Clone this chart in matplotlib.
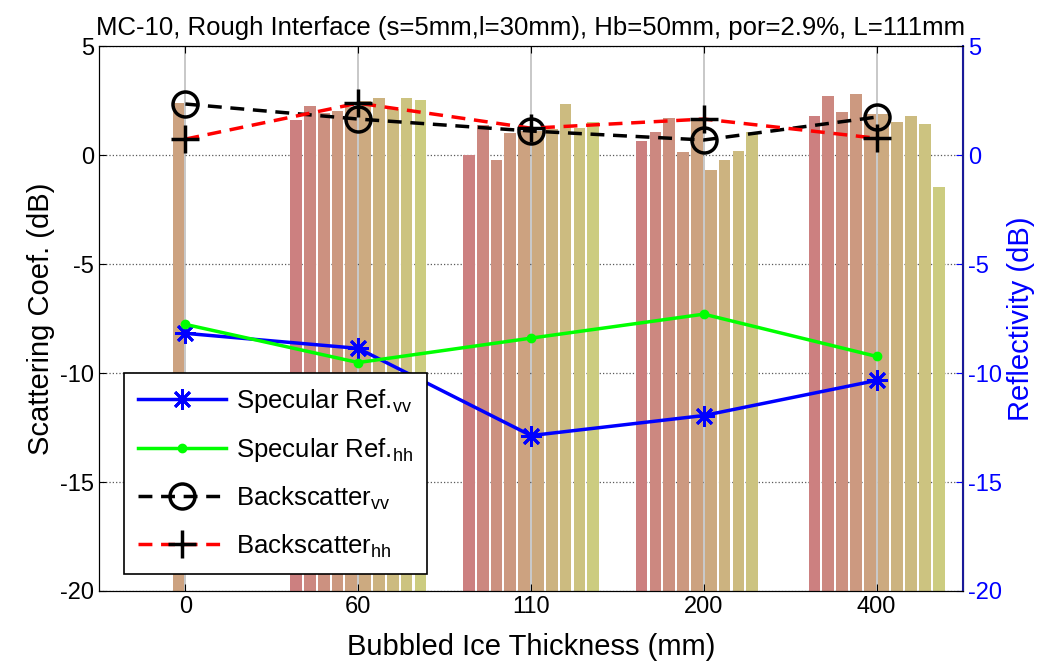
import numpy as np
import matplotlib.pyplot as plt

plt.rcParams['font.family'] = ['Liberation Sans', 'DejaVu Sans']
plt.rcParams['mathtext.fontset'] = 'custom'
plt.rcParams['mathtext.rm'] = 'Liberation Sans'
plt.rcParams['axes.unicode_minus'] = False

# 데이터
thickness = ['0', '60', '110', '200', '400']
nan = np.nan
bars = [
    [nan, nan, nan, nan, 2.38, nan, nan, nan, nan, nan],
    [1.62, 2.26, 1.93, 2.0, 2.2, 2.5, 2.63, 2.11, 2.63, 2.53],
    [0.0, 1.39, -0.22, 1.0, 1.08, 1.1, 1.19, 2.35, 1.24, 1.51],
    [0.63, 1.07, 1.71, 0.12, 1.54, -0.71, -0.22, 0.2, 1.07, nan],
    [1.8, 2.72, 1.99, 2.81, 1.9, 1.89, 1.53, 1.8, 1.44, -1.47],
]
spec_vv = [-8.18, -8.87, -12.87, -11.95, -10.34]
spec_hh = [-7.77, -9.52, -8.4, -7.3, -9.24]
back_vv = [2.34, 1.65, 1.1, 0.69, 1.74]
back_hh = [0.73, 2.38, 1.23, 1.65, 0.77]

fig = plt.figure(figsize=(10.51, 6.69), dpi=100, facecolor='white')
ax = fig.add_axes([0.0942, 0.1166, 0.8221, 0.8146])
x = np.arange(len(thickness))
bar_data = np.array(bars)
nb = bar_data.shape[1]
slot = 0.08
base = -20
for j in range(nb):
    col = (0.8, 0.5 + 0.3 * j / (nb - 1), 0.5)
    ax.bar(x + (j - (nb - 1) / 2) * slot, bar_data[:, j] - base, bottom=base,
           width=0.068, color=col, zorder=1)

ax.plot(x, spec_vv, color='blue', lw=2.5, marker=(8, 2, 0), ms=15, mew=2,
        label='Specular Ref.$_{\\mathregular{vv}}$', zorder=3)
ax.plot(x, spec_hh, color='#00ff00', lw=2.5, marker='.', ms=12,
        label='Specular Ref.$_{\\mathregular{hh}}$', zorder=3)
ax.plot(x, back_vv, color='black', lw=2.5, ls='--', dashes=(4, 2.5), marker='o', ms=18,
        mfc='none', mec='black', mew=2.5, label='Backscatter$_{\\mathregular{vv}}$', zorder=4)
ax.plot(x, back_hh, color='red', lw=2.5, ls='--', dashes=(4, 2.5), marker='+', ms=20,
        mec='black', mew=2.5, label='Backscatter$_{\\mathregular{hh}}$', zorder=4)

ax.set_xlim(-0.5, 4.5)
ax.set_ylim(-20, 5)
ax.set_xticks(x)
ax.set_xticklabels(thickness)
ax.set_yticks(np.arange(-20, 6, 5))
ax.tick_params(labelsize=17, direction='in', top=True, length=5)
ax.grid(axis='y', color='0.35', ls=':', lw=0.9)
ax.grid(axis='x', color='0.75', ls='-', lw=1.2)
ax.set_axisbelow(True)
ax.set_xlabel('Bubbled Ice Thickness (mm)', fontsize=21, labelpad=11)
ax.set_ylabel('Scattering Coef. (dB)', fontsize=21)
ax.set_title('MC-10, Rough Interface (s=5mm,l=30mm), Hb=50mm, por=2.9%, L=111mm',
             fontsize=18.5, pad=8)

ax2 = ax.twinx()
ax2.set_ylim(-20, 5)
ax2.set_yticks(np.arange(-20, 6, 5))
ax2.tick_params(labelsize=17, direction='in', colors='blue', length=5)
ax2.spines['right'].set_color('#1a1a99')
ax2.spines['right'].set_linewidth(1.5)
ax2.set_ylabel('Reflectivity (dB)', fontsize=21, color='blue')

leg = ax.legend(loc='upper left', bbox_to_anchor=(0.029, 0.4), borderaxespad=0,
                fontsize=18.5, handlelength=3.4, handletextpad=0.4, fancybox=False,
                edgecolor='black', framealpha=1, labelspacing=0.8, borderpad=0.55)
leg.get_frame().set_linewidth(1.2)

plt.savefig('out.png', dpi=100)
